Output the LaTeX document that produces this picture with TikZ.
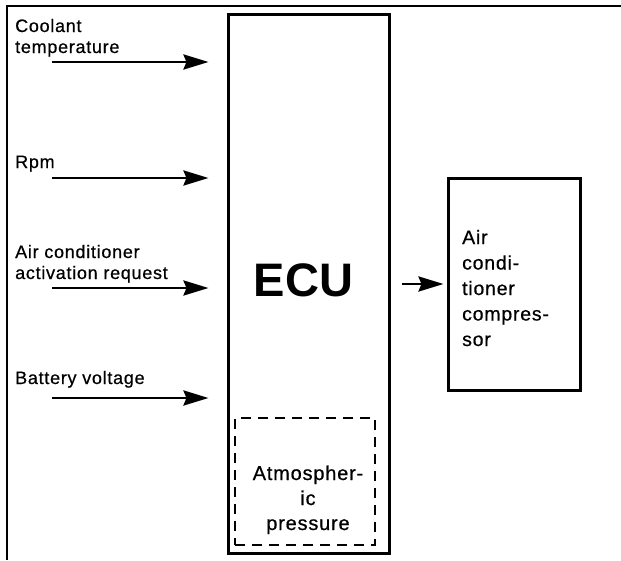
\documentclass[tikz,border=0pt]{standalone}
\usepackage{fontspec}
\setmainfont{Liberation Sans}[LetterSpace=4,FakeBold=0.6]
\newfontfamily\ecufont{Liberation Sans}[BoldFont={Liberation Sans Bold}]
\usetikzlibrary{arrows.meta}
\begin{document}
\begin{tikzpicture}[x=1pt,y=-1pt,
  lbl/.style={anchor=base west,inner sep=0pt,align=left,font=\fontsize{18}{21}\selectfont},
  arr/.style={line width=2.8pt,-{Stealth[length=25pt,width=15pt,inset=3pt]}},
  box/.style={draw,line width=3pt,inner sep=0pt},
  dbox/.style={draw,line width=2.6pt,dash pattern=on 10pt off 7pt,inner sep=0pt}]
\useasboundingbox (0,0) rectangle (621,560);
% frame
\draw[line width=2.2pt] (7,560) -- (7,6) -- (621,6);
% ECU
\node[box,minimum width=161pt,minimum height=539pt] (ecu) at (308.5,283.5) {};
\node[inner sep=0pt,font=\ecufont\fontsize{47}{50}\selectfont\bfseries] (ecut) at (303.5,280) {ECU};
\node[dbox,minimum width=140pt,minimum height=127pt] (atm) at (305,481.5) {};
\node[inner sep=0pt,align=center,font=\fontsize{20}{25}\selectfont,anchor=base] (atmt) at (308,530) {Atmospher-\\ic\\pressure};
% compressor
\node[box,minimum width=132pt,minimum height=212pt] (comp) at (514,284) {};
\node[inner sep=0pt,align=left,font=\fontsize{19.5}{25.5}\selectfont,anchor=base west] (compt) at (462,346) {Air\\condi-\\tioner\\compres-\\sor};
% labels
\node[lbl] (l1) at (15,53) {Coolant\\temperature};
\node[lbl] (l2) at (15,168) {Rpm};
\node[lbl] (l3) at (15,279) {Air conditioner\\activation request};
\node[lbl] (l4) at (15,384) {Battery voltage};
% arrow starts
\coordinate (s1) at (52,62);
\coordinate (s2) at (52,178);
\coordinate (s3) at (52,288);
\coordinate (s4) at (52,398);
\foreach \i in {1,2,3,4}
  \draw[arr,shorten >=18pt] (s\i) -- (s\i -| ecu.west);
\draw[arr,shorten <=11pt,shorten >=3pt] (ecu.east |- comp.west) -- (comp.west);
\end{tikzpicture}
\end{document}
